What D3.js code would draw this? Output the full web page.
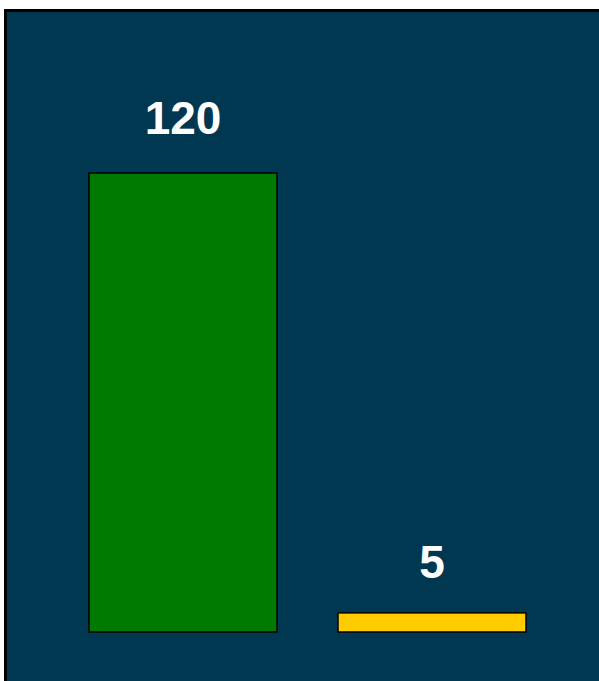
<!DOCTYPE html>
<html>
<head>
<meta charset="utf-8">
<script src="https://cdn.jsdelivr.net/npm/d3@7"></script>
<style>
  html, body { margin: 0; padding: 0; background: #ffffff; overflow: hidden; }
  svg { display: block; }
</style>
</head>
<body>
<svg id="chart"></svg>
<script>
// data
var categories = ["A", "B"];
var values = [120, 5];
var barColors = ["#007a00", "#ffcc00"];

var W = 599, H = 681;
var svg = d3.select("#chart").attr("width", W).attr("height", H);

// background panel (runs off the right / bottom edge)
svg.append("rect")
    .attr("x", 5.5).attr("y", 10.5)
    .attr("width", W + 20).attr("height", H + 20)
    .attr("fill", "#003751")
    .attr("stroke", "#000")
    .attr("stroke-width", 3);

var x = d3.scaleBand()
    .domain(categories)
    .range([58.5, 556.5])
    .paddingInner(0.245)
    .paddingOuter(0.1225);

var y = d3.scaleLinear()
    .domain([0, 120])
    .range([632, 173]);

// label baselines sit a little further above taller bars
var yLabel = d3.scaleLinear()
    .domain([0, 120])
    .range([597, 134]);

var data = categories.map(function(c, i){ return {name: c, value: values[i], color: barColors[i]}; });

svg.selectAll(".bar")
    .data(data)
    .enter()
    .append("rect")
        .attr("class", "bar")
        .attr("x", function(d){ return x(d.name); })
        .attr("y", function(d){ return y(d.value); })
        .attr("width", x.bandwidth())
        .attr("height", function(d){ return y(0) - y(d.value); })
        .style("fill", function(d){ return d.color; })
        .style("stroke", "#000")
        .style("stroke-width", 1.5);

svg.selectAll(".lbl")
    .data(data)
    .enter()
    .append("text")
        .attr("class", "lbl")
        .attr("x", function(d){ return x(d.name) + x.bandwidth()/2; })
        .attr("y", function(d){ return yLabel(d.value); })
        .attr("text-anchor", "middle")
        .text(function(d){ return d.value; })
        .style("fill", "#ffffff")
        .style("font-family", "'Liberation Sans', Arial, sans-serif")
        .style("font-size", "46px")
        .style("font-weight", "bold");
</script>
</body>
</html>
